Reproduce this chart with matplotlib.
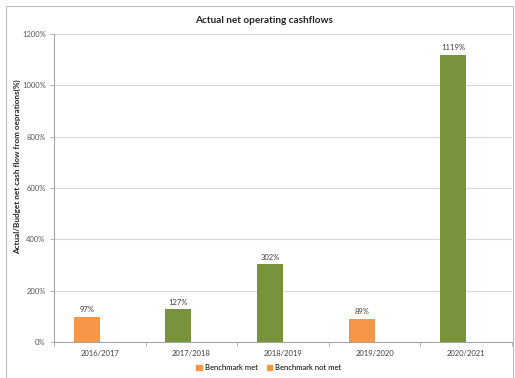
import matplotlib.pyplot as plt
from matplotlib.patches import Patch, Rectangle
from matplotlib.ticker import FixedLocator

years = ["2016/2017", "2017/2018", "2018/2019", "2019/2020", "2020/2021"]
ratio = [97, 127, 302, 89, 1119]
met = [False, True, True, False, True]
y_ticks = [0, 200, 400, 600, 800, 1000, 1200]

ORANGE = "#F79646"
GREEN = "#77933C"
GRAY = "#A6A6A6"

plt.rcParams['font.family'] = ['Lato', 'DejaVu Sans']

fig = plt.figure(figsize=(5.15, 3.78), dpi=100)
fig.patches.append(Rectangle((6 / 515, -0.01), 507 / 515, 1 - 6 / 378 + 0.01,
                             transform=fig.transFigure, fill=False,
                             edgecolor="#BFBFBF", linewidth=0.8))
ax = fig.add_axes([54 / 515, 36 / 378, 458 / 515, 308 / 378])

w = 0.284
x = list(range(len(years)))
colors = [GREEN if m else ORANGE for m in met]
ax.bar([i - w for i in x], ratio, width=w, align="edge", color=colors, zorder=3)
for i, v in enumerate(ratio):
    ax.text(i - w / 2, v + 15, f"{v}%", ha="center", va="bottom", fontsize=5.5, color="#404040")

ax.set_xlim(-0.5, len(years) - 0.5)
ax.set_ylim(0, 1200)
ax.set_yticks(y_ticks)
ax.set_yticklabels([f"{t}%" for t in y_ticks], fontsize=5.5, color="#595959")
ax.set_xticks(x)
ax.set_xticklabels(years, fontsize=5.5, color="#404040")
ax.tick_params(axis="x", which="major", length=0, pad=6)
ax.xaxis.set_minor_locator(FixedLocator([i + 0.5 for i in range(-1, len(years))]))
ax.tick_params(axis="x", which="minor", length=3, color=GRAY, width=0.6)
ax.tick_params(axis="y", length=3, color=GRAY, width=0.6, pad=3)
ax.grid(axis="y", color="#D9D9D9", linewidth=0.8, zorder=0)
for s in ["top", "right"]:
    ax.spines[s].set_visible(False)
for s in ["left", "bottom"]:
    ax.spines[s].set_color(GRAY)
    ax.spines[s].set_linewidth(0.8)

ax.set_ylabel("Actual/Budget net cash flow from oeprations(%)", fontsize=5.9,
              fontweight="bold", color="#262626")
ax.yaxis.set_label_coords(-0.072, 0.568)
fig.text(0.512, 0.945, "Actual net operating cashflows", ha="center", va="center",
         fontsize=7.2, fontweight="bold", color="#262626")

handles = [Patch(color=ORANGE, label="Benchmark met"),
           Patch(color=ORANGE, label="Benchmark not met")]
fig.legend(handles=handles, loc="center", bbox_to_anchor=(0.522, 0.028), ncol=2,
           frameon=False, fontsize=5.5, handlelength=0.7, handleheight=0.7,
           handletextpad=0.4, columnspacing=1.2)

fig.savefig("out.png", dpi=100)
